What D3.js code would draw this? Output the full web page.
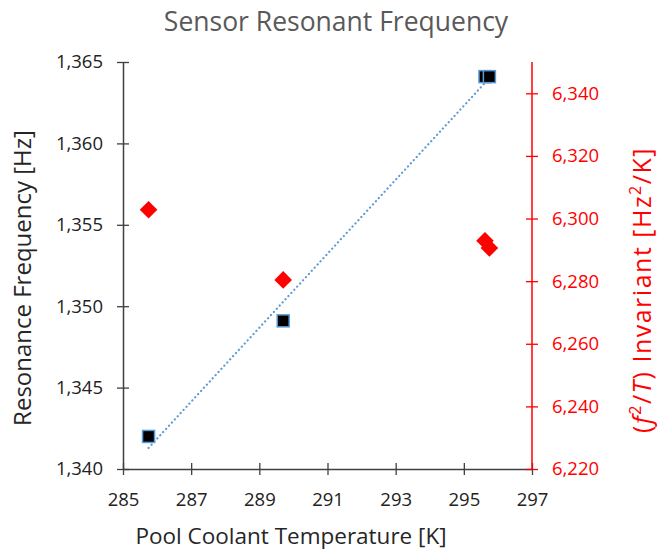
<!DOCTYPE html>
<html>
<head>
<meta charset="utf-8">
<script src="https://cdn.jsdelivr.net/npm/d3@7"></script>
<style>
  body { margin: 0; background: #fff; }
  svg text { font-family: "Open Sans", "Noto Sans", sans-serif; }
</style>
</head>
<body>
<svg id="chart" width="664" height="559"></svg>
<script>
// data
var temps = [285.75, 289.7, 295.62, 295.75];
var freqs = [1342.0, 1349.1, 1364.1, 1364.1];
var invariants = [6302.8, 6280.4, 6292.9, 6290.6];
var xTicks = [285, 287, 289, 291, 293, 295, 297];
var leftTicks = [1340, 1345, 1350, 1355, 1360, 1365];
var rightTicks = [6220, 6240, 6260, 6280, 6300, 6320, 6340];

var margin = { top: 62, left: 123, right: 132, bottom: 90 },
    width = 664 - margin.left - margin.right,
    height = 559 - margin.top - margin.bottom,
    dark = "#404040",
    red = "#ff0000",
    blue = "#5b9bd5";

var svg = d3.select("#chart");
var g = svg.append("g")
    .attr("transform", "translate(" + margin.left + "," + margin.top + ")");

var x = d3.scaleLinear().domain([285, 297]).range([0, width]);
var yL = d3.scaleLinear().domain([1340, 1365]).range([height, 0]);
var yR = d3.scaleLinear().domain([6220, 6350]).range([height, 0]);
var fmt = d3.format(",");

function crossTicks(axisG, color, horizontal) {
    axisG.select(".domain").attr("stroke", color).attr("stroke-width", 1.5);
    axisG.selectAll(".tick line")
        .attr("stroke", color).attr("stroke-width", 1.3)
        .attr(horizontal ? "y1" : "x1", -6)
        .attr(horizontal ? "y2" : "x2", 6);
}

// x axis
var xAxis = g.append("g")
    .attr("transform", "translate(0," + height + ")")
    .call(d3.axisBottom(x).tickValues(xTicks).tickSize(0).tickPadding(24));
crossTicks(xAxis, dark, true);
xAxis.selectAll(".tick text").attr("fill", "#222").style("font-size", "18.5px");

// left axis
var lAxis = g.append("g")
    .call(d3.axisLeft(yL).tickValues(leftTicks).tickFormat(fmt).tickSize(0).tickPadding(20));
crossTicks(lAxis, dark, false);
lAxis.selectAll(".tick text").attr("fill", "#222").style("font-size", "18.5px");

// right axis
var rAxis = g.append("g")
    .attr("transform", "translate(" + width + ",0)")
    .call(d3.axisRight(yR).tickValues(rightTicks).tickFormat(fmt).tickSize(0).tickPadding(20));
crossTicks(rAxis, red, false);
rAxis.select(".domain").attr("d", "M0," + height + "V0");
rAxis.selectAll(".tick text").attr("fill", red).style("font-size", "18.5px");

// linear trendline of the frequency series
var mx = d3.mean(temps),
    my = d3.mean(freqs),
    sxy = d3.sum(temps, function(t, i) { return (t - mx) * (freqs[i] - my); }),
    sxx = d3.sum(temps, function(t) { return (t - mx) * (t - mx); }),
    slope = sxy / sxx,
    icpt = my - slope * mx;
var xr = d3.extent(temps);
g.append("line")
    .attr("x1", x(xr[0])).attr("y1", yL(icpt + slope * xr[0]))
    .attr("x2", x(xr[1])).attr("y2", yL(icpt + slope * xr[1]))
    .attr("stroke", blue).attr("stroke-width", 2.2)
    .attr("stroke-dasharray", "0.1 4.2").attr("stroke-linecap", "round");

// red diamonds
g.selectAll(".inv").data(temps).enter().append("path")
    .attr("class", "inv")
    .attr("d", "M0,-8.8L8.8,0L0,8.8L-8.8,0Z")
    .attr("transform", function(d, i) { return "translate(" + x(d) + "," + yR(invariants[i]) + ")"; })
    .attr("fill", red);

// black squares
g.selectAll(".freq").data(temps).enter().append("rect")
    .attr("class", "freq")
    .attr("x", function(d) { return x(d) - 6; })
    .attr("y", function(d, i) { return yL(freqs[i]) - 6; })
    .attr("width", 12).attr("height", 12)
    .attr("fill", "#000").attr("stroke", blue).attr("stroke-width", 1.5);

// titles
svg.append("text")
    .attr("x", 336).attr("y", 31)
    .attr("text-anchor", "middle")
    .attr("fill", "#595959").style("font-size", "26.5px")
    .text("Sensor Resonant Frequency");

svg.append("text")
    .attr("x", 291).attr("y", 544)
    .attr("text-anchor", "middle")
    .attr("fill", "#262626").style("font-size", "22.5px")
    .text("Pool Coolant Temperature [K]");

svg.append("text")
    .attr("transform", "translate(31,278) rotate(-90)")
    .attr("text-anchor", "middle")
    .attr("fill", "#262626").style("font-size", "24px")
    .text("Resonance Frequency [Hz]");

var rl = svg.append("text")
    .attr("transform", "translate(651,290) rotate(-90)")
    .attr("text-anchor", "middle")
    .attr("fill", red).style("font-size", "25px")
    .style("letter-spacing", "1.5px");
rl.append("tspan").text("(");
rl.append("tspan").attr("font-style", "italic").text("f");
rl.append("tspan").attr("dy", -10).style("font-size", "16px").text("2");
rl.append("tspan").attr("dy", 10).text("/");
rl.append("tspan").attr("font-style", "italic").text("T");
rl.append("tspan").text(") Invariant [Hz");
rl.append("tspan").attr("dy", -10).style("font-size", "16px").text("2");
rl.append("tspan").attr("dy", 10).text("/K]");
</script>
</body>
</html>
